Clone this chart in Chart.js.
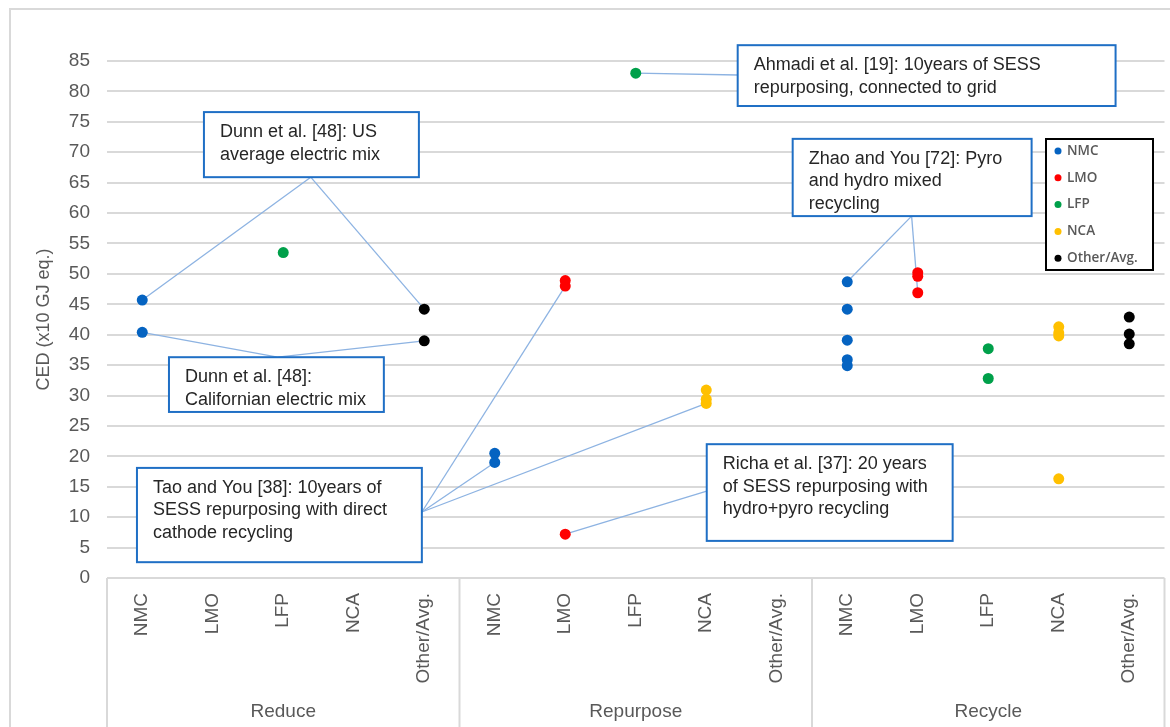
<!DOCTYPE html>
<html>
<head>
<meta charset="utf-8">
<script src="https://cdn.jsdelivr.net/npm/chart.js@4/dist/chart.umd.min.js"></script>
<style>
  html, body { margin: 0; padding: 0; background: #fff; }
  #wrap { width: 1170px; height: 727px; position: relative; }
</style>
</head>
<body>
<div id="wrap"><canvas id="myChart" width="1170" height="727"></canvas></div>
<script>
// Categories and groups
const categories = ['NMC', 'LMO', 'LFP', 'NCA', 'Other/Avg.'];
const groups = ['Reduce', 'Repurpose', 'Recycle'];
const yTicks = [0, 5, 10, 15, 20, 25, 30, 35, 40, 45, 50, 55, 60, 65, 70, 75, 80, 85];

// CED values (x10 GJ eq.), one list per group: Reduce, Repurpose, Recycle
const nmcValues = [[45.7, 40.4], [20.5, 19.0], [48.7, 44.2, 39.1, 35.9, 34.9]];
const lmoValues = [[], [48.9, 48.0, 7.2], [50.2, 49.6, 46.9]];
const lfpValues = [[53.5], [83.0], [37.7, 32.8]];
const ncaValues = [[], [30.9, 29.4, 28.7], [41.3, 40.3, 39.8, 16.3]];
const otherValues = [[44.2, 39.0], [], [42.9, 40.1, 38.5]];

const seriesValues = [nmcValues, lmoValues, lfpValues, ncaValues, otherValues];
const seriesColors = ['#0563C1', '#FF0000', '#00A04A', '#FFC000', '#000000'];

// Callouts: box [x1, yTop, x2, yBottom] and anchor in axis units, targets = [series, group, point]
const notes = [
    { lines: ['Dunn et al. [48]: US', 'average electric mix'],
      box: [0.875, 76.6, 3.924, 65.9], anchor: [2.39, 65.9], targets: [[0, 0, 0], [4, 0, 0]] },
    { lines: ['Dunn et al. [48]:', 'Californian electric mix'],
      box: [0.379, 36.3, 3.427, 27.3], anchor: [1.92, 36.3], targets: [[0, 0, 1], [4, 0, 1]] },
    { lines: ['Tao and You [38]: 10years of', 'SESS repurposing with direct', 'cathode recycling'],
      box: [-0.075, 18.1, 3.966, 2.6], anchor: [3.966, 10.85], targets: [[1, 1, 1], [0, 1, 1], [3, 1, 2]] },
    { lines: ['Richa et al. [37]: 20 years', 'of SESS repurposing with', 'hydro+pyro recycling'],
      box: [8.007, 22.0, 11.495, 6.1], anchor: [8.007, 14.3], targets: [[1, 1, 2]] },
    { lines: ['Ahmadi et al. [19]: 10years of SESS', 'repurposing, connected to grid'],
      box: [8.446, 87.6, 13.806, 77.6], anchor: [8.446, 82.7], targets: [[2, 1, 0]] },
    { lines: ['Zhao and You [72]: Pyro', 'and hydro mixed', 'recycling'],
      box: [9.226, 72.2, 12.615, 59.5], anchor: [10.913, 59.5], targets: [[0, 2, 0], [1, 2, 2]] }
];

const FONT = '"Liberation Sans", Arial, sans-serif';
const GREY = '#595959';

document.addEventListener('DOMContentLoaded', function() {
    // Build scatter datasets from the value lists
    const datasets = categories.map(function(name, s) {
        const pts = [];
        seriesValues[s].forEach(function(list, g) {
            list.forEach(function(v) {
                pts.push({ x: g * categories.length + s, y: v });
            });
        });
        return {
            label: name,
            data: pts,
            backgroundColor: seriesColors[s],
            borderWidth: 0,
            pointRadius: 5.5,
            pointHoverRadius: 5.5
        };
    });

    const xTickValues = [];
    for (let i = 0; i < groups.length * categories.length; i++) xTickValues.push(i);

    // Outer frame + category box below the plot
    const framePlugin = {
        id: 'frame',
        beforeDraw: function(chart) {
            const ctx = chart.ctx;
            ctx.save();
            ctx.strokeStyle = '#d9d9d9';
            ctx.lineWidth = 2;
            ctx.strokeRect(10, 9, 1175, 740);
            ctx.restore();
        },
        afterDraw: function(chart) {
            const ctx = chart.ctx;
            const x = chart.scales.x;
            const area = chart.chartArea;
            ctx.save();
            ctx.strokeStyle = '#d9d9d9';
            ctx.lineWidth = 2;
            for (let g = 0; g <= groups.length; g++) {
                const px = x.getPixelForValue(g * categories.length - 0.5);
                ctx.beginPath();
                ctx.moveTo(px, area.bottom);
                ctx.lineTo(px, 727);
                ctx.stroke();
            }
            ctx.fillStyle = GREY;
            ctx.font = '19px ' + FONT;
            ctx.textAlign = 'center';
            ctx.textBaseline = 'middle';
            groups.forEach(function(name, g) {
                ctx.fillText(name, x.getPixelForValue(g * categories.length + 2), 712);
            });
            ctx.restore();
        }
    };

    // Connector lines under the points, callout boxes and legend on top
    const notesPlugin = {
        id: 'notes',
        beforeDatasetsDraw: function(chart) {
            const ctx = chart.ctx;
            const x = chart.scales.x, y = chart.scales.y;
            ctx.save();
            ctx.strokeStyle = '#8DB3E2';
            ctx.lineWidth = 1.3;
            notes.forEach(function(n) {
                const ax = x.getPixelForValue(n.anchor[0]);
                const ay = y.getPixelForValue(n.anchor[1]);
                n.targets.forEach(function(t) {
                    const v = seriesValues[t[0]][t[1]][t[2]];
                    ctx.beginPath();
                    ctx.moveTo(ax, ay);
                    ctx.lineTo(x.getPixelForValue(t[1] * categories.length + t[0]), y.getPixelForValue(v));
                    ctx.stroke();
                });
            });
            ctx.restore();
        },
        afterDatasetsDraw: function(chart) {
            const ctx = chart.ctx;
            const x = chart.scales.x, y = chart.scales.y;
            ctx.save();
            notes.forEach(function(n) {
                const x1 = x.getPixelForValue(n.box[0]);
                const y1 = y.getPixelForValue(n.box[1]);
                const x2 = x.getPixelForValue(n.box[2]);
                const y2 = y.getPixelForValue(n.box[3]);
                ctx.fillStyle = '#ffffff';
                ctx.fillRect(x1, y1, x2 - x1, y2 - y1);
                ctx.strokeStyle = '#1F6FC5';
                ctx.lineWidth = 2;
                ctx.strokeRect(x1, y1, x2 - x1, y2 - y1);
                ctx.fillStyle = '#262626';
                ctx.font = '18px ' + FONT;
                ctx.textAlign = 'left';
                ctx.textBaseline = 'middle';
                n.lines.forEach(function(line, i) {
                    ctx.fillText(line, x1 + 16, y1 + 20 + i * 22.5);
                });
            });

            // Legend box
            const lx = 1046, ly = 139, lw = 107, lh = 131;
            ctx.fillStyle = '#ffffff';
            ctx.fillRect(lx, ly, lw, lh);
            ctx.strokeStyle = '#000000';
            ctx.lineWidth = 2;
            ctx.strokeRect(lx, ly, lw, lh);
            ctx.font = '600 13.5px "Open Sans", sans-serif';
            ctx.textBaseline = 'middle';
            categories.forEach(function(name, s) {
                const cy = ly + 12 + s * 26.8;
                ctx.fillStyle = seriesColors[s];
                ctx.beginPath();
                ctx.arc(lx + 12, cy, 3.5, 0, Math.PI * 2);
                ctx.fill();
                ctx.fillStyle = GREY;
                ctx.fillText(name, lx + 21, cy);
            });
            ctx.restore();
        }
    };

    const ctx = document.getElementById('myChart').getContext('2d');
    new Chart(ctx, {
        type: 'scatter',
        data: { datasets: datasets },
        plugins: [framePlugin, notesPlugin],
        options: {
            responsive: false,
            animation: false,
            layout: { padding: { top: 61, right: 5, left: 0, bottom: 0 } },
            plugins: {
                legend: { display: false },
                tooltip: { enabled: false }
            },
            scales: {
                x: {
                    type: 'linear',
                    min: -0.5,
                    max: groups.length * categories.length - 0.5,
                    afterBuildTicks: function(scale) {
                        scale.ticks = xTickValues.map(function(v) { return { value: v }; });
                    },
                    afterFit: function(scale) { scale.height = 149; },
                    grid: { display: false },
                    border: { display: false },
                    ticks: {
                        autoSkip: false,
                        minRotation: 90,
                        maxRotation: 90,
                        padding: 7,
                        color: GREY,
                        font: { family: FONT, size: 19 },
                        callback: function(v) { return categories[v % categories.length]; }
                    }
                },
                y: {
                    min: 0,
                    max: 85,
                    afterBuildTicks: function(scale) {
                        scale.ticks = yTicks.map(function(v) { return { value: v }; });
                    },
                    afterFit: function(scale) { scale.width = 107; },
                    grid: { color: '#d9d9d9', lineWidth: 2, drawTicks: false },
                    border: { display: false },
                    ticks: {
                        padding: 17,
                        color: GREY,
                        font: { family: FONT, size: 19 }
                    },
                    title: {
                        display: true,
                        text: 'CED (x10 GJ eq.)',
                        color: GREY,
                        font: { family: FONT, size: 18 },
                        padding: { top: 33, bottom: 0 }
                    }
                }
            }
        }
    });
});
</script>
</body>
</html>
